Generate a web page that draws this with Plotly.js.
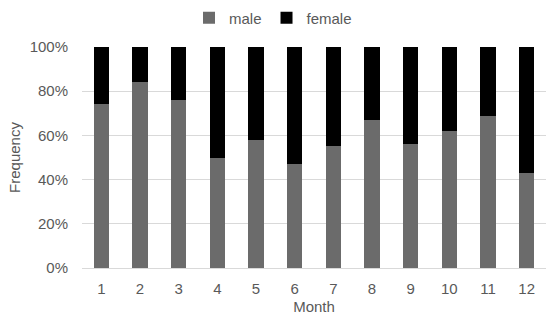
<!DOCTYPE html>
<html>
<head>
<meta charset="utf-8">
<script src="https://cdn.plot.ly/plotly-3.0.1.min.js"></script>
<style>html,body{margin:0;padding:0;background:#fff;}#chart{width:546px;height:315px;}</style>
</head>
<body>
<div id="chart"></div>
<script>
const months = ["1","2","3","4","5","6","7","8","9","10","11","12"];
const male = [74, 84, 76, 50, 58, 47, 55, 67, 56, 62, 69, 43];
const female = male.map(v => 100 - v);

const font = {family: "Liberation Sans, Arial, sans-serif", size: 15, color: "#595959"};

const data = [
  {type: "bar", name: "male", x: months, y: male, marker: {color: "#6b6b6b"}},
  {type: "bar", name: "female", x: months, y: female, marker: {color: "#000000"}}
];

const layout = {
  width: 546, height: 315,
  margin: {l: 82, r: 0, t: 47, b: 47},
  barmode: "stack",
  bargap: 0.6,
  font: font,
  paper_bgcolor: "#fff", plot_bgcolor: "#fff",
  showlegend: true,
  legend: {orientation: "h", xref: "container", x: 0.5, xanchor: "center", yref: "container", y: 0.995, yanchor: "top", font: {size: 15, color: "#595959"}, traceorder: "normal", itemwidth: 30},
  xaxis: {
    type: "category",
    showgrid: false, showline: true, linecolor: "#d9d9d9", linewidth: 1,
    ticks: "", ticklabelstandoff: 7,
    title: {text: "Month", font: {size: 15, color: "#595959"}, standoff: 5}
  },
  yaxis: {
    range: [0, 100], dtick: 20, ticksuffix: "%",
    showgrid: true, gridcolor: "#d9d9d9", gridwidth: 1,
    zeroline: false, showline: false, ticks: "", ticklabelstandoff: 13,
    title: {text: "Frequency", font: {size: 15, color: "#595959"}, standoff: 5}
  }
};

Plotly.newPlot("chart", data, layout, {displayModeBar: false, staticPlot: true});
</script>
</body>
</html>
